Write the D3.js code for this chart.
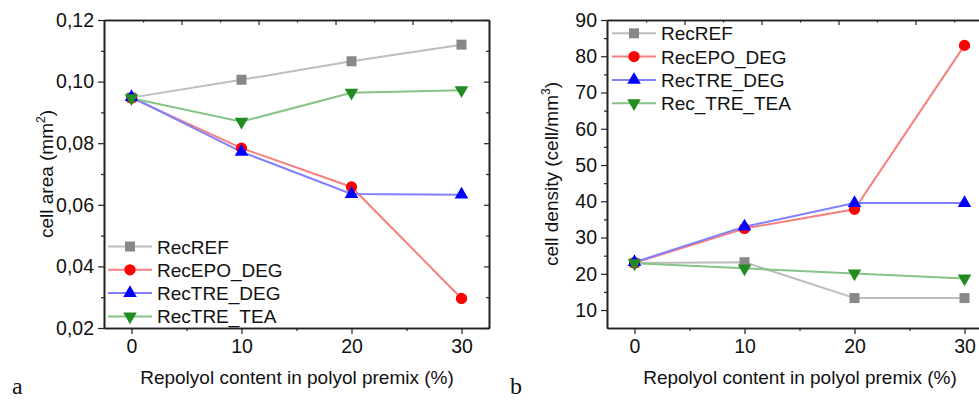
<!DOCTYPE html>
<html>
<head>
<meta charset="utf-8">
<script src="https://cdn.jsdelivr.net/npm/d3@7"></script>
<style>
  body { margin: 0; background: #fff; }
  svg { display: block; }
  text { font-family: "Liberation Sans", Arial, sans-serif; fill: #111; }
</style>
</head>
<body>
<svg id="chart" width="979" height="400"></svg>
<script>
// x values shared by both panels (Repolyol content, %)
const repolyol = [0, 10, 20, 30];
const xTickValues = [0, 10, 20, 30];
const xMinorValues = [5, 15, 25];
const topTickValues = [1.05, 4.55, 8.05, 11.55, 15.05, 18.55, 22.05, 25.55, 29.05];

// panel a: cell area (mm2)
const areaNames = ["RecREF", "RecEPO_DEG", "RecTRE_DEG", "RecTRE_TEA"];
const areaREF = [0.0948, 0.1006, 0.1066, 0.1120];
const areaEPO = [0.0947, 0.0784, 0.0658, 0.0296];
const areaTREDEG = [0.0950, 0.0772, 0.0635, 0.0633];
const areaTRETEA = [0.0946, 0.0870, 0.0964, 0.0972];
const areaTicks = [0.02, 0.04, 0.06, 0.08, 0.10, 0.12];
const areaTickLabels = ["0,02", "0,04", "0,06", "0,08", "0,10", "0,12"];
const areaMinor = [0.03, 0.05, 0.07, 0.09, 0.11];

// panel b: cell density (cell/mm3)
const densNames = ["RecREF", "RecEPO_DEG", "RecTRE_DEG", "Rec_TRE_TEA"];
const densREF = [23.0, 23.2, 13.3, 13.3];
const densEPO = [23.0, 32.5, 37.8, 83.0];
const densTREDEG = [23.2, 33.0, 39.5, 39.5];
const densTRETEA = [22.9, 21.5, 20.1, 18.7];
const densTicks = [10, 20, 30, 40, 50, 60, 70, 80, 90];
const densMinor = [15, 25, 35, 45, 55, 65, 75, 85];

// styling per series (same order in both panels)
const styles = [
  {line: "#bdbdbd", fill: "#888888", shape: "square"},
  {line: "#f58080", fill: "#ff0000", shape: "circle"},
  {line: "#8080ff", fill: "#0000ff", shape: "up"},
  {line: "#86c486", fill: "#228b22", shape: "down"}
];

const svg = d3.select("#chart");

function marker(g, shape, color) {
  let sym;
  if (shape === "square") sym = d3.symbol(d3.symbolSquare, 100);
  else if (shape === "circle") sym = d3.symbol(d3.symbolCircle, 100);
  else sym = d3.symbol(d3.symbolTriangle, 80);
  g.append("path")
    .attr("d", sym())
    .attr("fill", color)
    .attr("transform", shape === "down" ? "rotate(180)" : null);
}

function drawPanel(p) {
  const x = d3.scaleLinear().domain([-2.5, 32.5]).range([p.left, p.left + 385]);
  const y = d3.scaleLinear().domain(p.yDomain).range([328, 20]);
  const g = svg.append("g");

  // frame + axes
  const bottom = g.append("g").attr("transform", "translate(0,328)");
  bottom.call(d3.axisBottom(x).tickValues(xTickValues).tickSize(6).tickPadding(5).tickSizeOuter(0));
  bottom.append("g").call(d3.axisBottom(x).tickValues(xMinorValues).tickSize(3).tickFormat("").tickSizeOuter(0));

  const top = g.append("g").attr("transform", "translate(0,20)");
  top.call(d3.axisBottom(x).tickValues(topTickValues.filter((d, i) => i % 2 === 1)).tickSize(5).tickFormat("").tickSizeOuter(0));
  top.append("g").call(d3.axisBottom(x).tickValues(topTickValues.filter((d, i) => i % 2 === 0)).tickSize(2.5).tickFormat("").tickSizeOuter(0));

  const left = g.append("g").attr("transform", "translate(" + p.left + ",0)");
  left.call(d3.axisLeft(y).tickValues(p.ticks).tickSize(6).tickPadding(4).tickSizeOuter(0)
    .tickFormat((d, i) => p.tickLabels ? p.tickLabels[i] : d));
  left.append("g").call(d3.axisLeft(y).tickValues(p.minor).tickSize(3).tickFormat("").tickSizeOuter(0));

  const right = g.append("g").attr("transform", "translate(" + (p.left + 385) + ",0)");
  right.call(d3.axisLeft(y).tickValues(p.ticks).tickSize(5).tickFormat("").tickSizeOuter(0));
  right.append("g").call(d3.axisLeft(y).tickValues(p.minor).tickSize(3).tickFormat("").tickSizeOuter(0));

  g.selectAll(".domain").attr("stroke", "#222").attr("stroke-width", 1.6);
  g.selectAll(".tick line").attr("stroke", "#222").attr("stroke-width", 1.2);
  g.selectAll(".tick text").style("font-size", "19.5px").attr("fill", "#111")
    .style("font-family", "Liberation Sans, Arial, sans-serif");

  // series lines
  const line = d3.line().x((d, i) => x(repolyol[i])).y(d => y(d));
  p.series.forEach((s, k) => {
    g.append("path").datum(s).attr("d", line)
      .attr("fill", "none").attr("stroke", styles[k].line).attr("stroke-width", 2);
  });
  // markers
  p.series.forEach((s, k) => {
    s.forEach((v, i) => {
      const m = g.append("g").attr("transform", "translate(" + x(repolyol[i]) + "," + y(v) + ")");
      marker(m, styles[k].shape, styles[k].fill);
    });
  });

  // legend
  p.names.forEach((name, k) => {
    const ly = p.legendY + k * 23.3;
    const lg = g.append("g").attr("transform", "translate(" + p.legendX + "," + ly + ")");
    lg.append("line").attr("x1", -22).attr("x2", 22).attr("stroke", styles[k].line).attr("stroke-width", 2);
    marker(lg, styles[k].shape, styles[k].fill);
    lg.append("text").attr("x", 27).attr("y", 7).style("font-size", "19px").text(name);
  });

  // axis titles
  g.append("text")
    .attr("x", p.left + 193).attr("y", 384)
    .attr("text-anchor", "middle").style("font-size", "19px")
    .text("Repolyol content in polyol premix (%)");

  const yl = g.append("text")
    .attr("transform", "translate(" + p.yLabelX + ",174) rotate(-90)")
    .attr("text-anchor", "middle").style("font-size", "19px");
  yl.append("tspan").text(p.yLabel);
  yl.append("tspan").attr("dy", -8).style("font-size", "12px").text(p.yLabelSup);
  yl.append("tspan").attr("dy", 8).text(")");

  g.append("text")
    .attr("x", p.letterX).attr("y", 394)
    .style("font-family", "Liberation Serif, Times New Roman, serif")
    .style("font-size", "24px")
    .text(p.letter);
}

drawPanel({
  left: 104,
  yDomain: [0.02, 0.12],
  ticks: areaTicks, tickLabels: areaTickLabels, minor: areaMinor,
  series: [areaREF, areaEPO, areaTREDEG, areaTRETEA],
  names: areaNames,
  legendX: 130, legendY: 246.5,
  yLabel: "cell area (mm", yLabelSup: "2", yLabelX: 53,
  letter: "a", letterX: 12
});

drawPanel({
  left: 607,
  yDomain: [5.05, 90],
  ticks: densTicks, tickLabels: null, minor: densMinor,
  series: [densREF, densEPO, densTREDEG, densTRETEA],
  names: densNames,
  legendX: 634, legendY: 33.3,
  yLabel: "cell density (cell/mm", yLabelSup: "3", yLabelX: 558,
  letter: "b", letterX: 510
});
</script>
</body>
</html>
